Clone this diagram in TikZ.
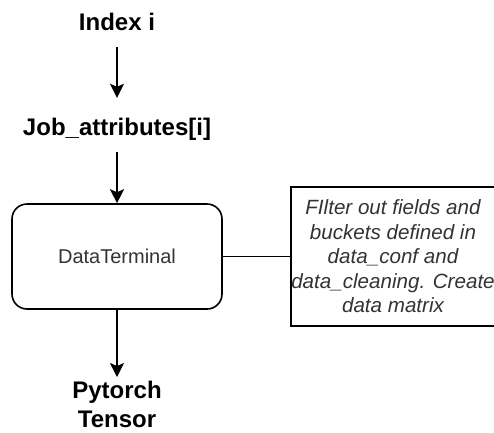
\documentclass[tikz,border=0pt]{standalone}
\usepackage{fontspec}
\setmainfont{Liberation Sans}
\usetikzlibrary{arrows.meta}
\definecolor{txtgray}{HTML}{333333}
\tikzset{
  lbl/.style={font=\fontsize{24}{29}\selectfont\bfseries, inner sep=0pt, text=black},
  arr/.style={line width=1.6pt, -{Stealth[length=14pt,width=14pt,inset=3pt]}},
  ln/.style={line width=1.6pt},
  roundbox/.style={draw, line width=1.6pt, rounded corners=15pt, minimum width=210pt, minimum height=105pt,
    font=\fontsize{20}{24}\selectfont, text=txtgray, inner sep=0pt},
  notetext/.style={font=\fontsize{20.6}{24.5}\selectfont\itshape, text=txtgray, align=center, inner sep=0pt}
}
\begin{document}
\begin{tikzpicture}[x=1pt,y=-1pt]
\useasboundingbox (0,0) rectangle (494,432);
\node[lbl, text height=17pt, text depth=0pt] (index) at (117,22) {Index i};
\node[lbl, text height=17pt, text depth=0pt] (job) at (117,127) {Job\_attributes[i]};
\node[roundbox] (dt) at (117,256.5) {DataTerminal};
\node[lbl, align=center, anchor=north] (torch) at (117,381) {Pytorch\\Tensor};
\coordinate (noteL) at (291,256.5);
\draw[ln] (494,187) -- (291,187) -- (291,326) -- (494,326);
\node[notetext] (notetxt) at (393,256.5) {FIlter out fields and\\buckets defined in\\data\_conf and\\data\_cleaning. Create\\data matrix};
\draw[arr, shorten <=16.5pt, shorten >=20.5pt] (index) -- (job);
\draw[arr, shorten <=16.5pt] (job) -- (dt);
\draw[arr, shorten >=4pt] (dt) -- (torch);
\draw[ln] (dt.east) -- (noteL);
\end{tikzpicture}
\end{document}
